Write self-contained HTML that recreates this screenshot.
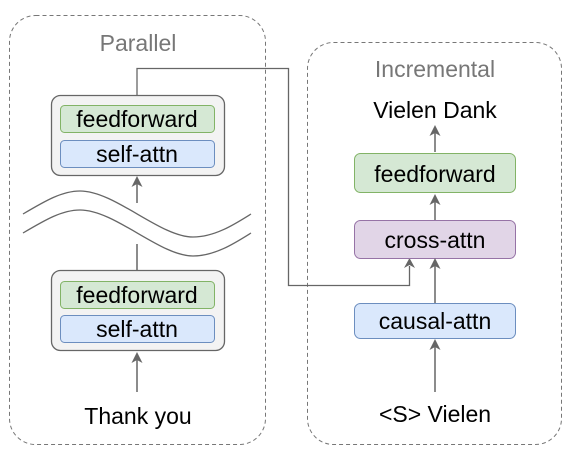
<!DOCTYPE html>
<html><head><meta charset="utf-8"><style>
html,body{margin:0;padding:0;background:#fff;}
svg{display:block;}
text{font-family:"Liberation Sans",sans-serif;text-anchor:middle;}
</style></head><body>
<svg width="575" height="457" viewBox="0 0 575 457" xmlns="http://www.w3.org/2000/svg">
<rect x="9.5" y="15.5" width="256" height="429" rx="26" fill="none" stroke="#777" stroke-dasharray="4,3"/>
<rect x="307.5" y="42.5" width="254" height="402" rx="26" fill="none" stroke="#777" stroke-dasharray="4,3"/>
<text x="138" y="51" font-size="23" fill="#777">Parallel</text>
<text x="435" y="77" font-size="23" fill="#777">Incremental</text>

<polyline points="137,95 137,68.5 288.5,68.5 288.5,285.5 409.5,285.5 409.5,266" fill="none" stroke="#666" stroke-width="1.3"/>
<path d="M409.5,258 L404,268 L409.5,265 L415,268 Z" fill="#666"/>

<rect x="51.5" y="95.5" width="173" height="80" rx="9" fill="#f3f3f3" stroke="#666" stroke-width="1.3"/>
<rect x="60.5" y="105.5" width="154" height="27" rx="4" fill="#d5e8d4" stroke="#82b366"/>
<rect x="60.5" y="140.5" width="154" height="27" rx="4" fill="#dae8fc" stroke="#6c8ebf"/>
<text x="137" y="127" font-size="23">feedforward</text>
<text x="137" y="162" font-size="23">self-attn</text>

<line x1="137" y1="203" x2="137" y2="184" stroke="#666" stroke-width="1.5"/>
<path d="M137,176 L131.5,187 L137,184 L142.5,187 Z" fill="#666"/>

<path d="M23,214 C45,201 62,191 80,191 C115,191 160,237 193,237 C215,237 235,224 251,214" fill="none" stroke="#666" stroke-width="1.3"/>
<path d="M23,233 C45,220 62,210 80,210 C115,210 160,256 193,256 C215,256 235,243 251,233" fill="none" stroke="#666" stroke-width="1.3"/>

<line x1="137" y1="244" x2="137" y2="270" stroke="#666" stroke-width="1.5"/>

<rect x="51.5" y="270.5" width="173" height="80" rx="9" fill="#f3f3f3" stroke="#666" stroke-width="1.3"/>
<rect x="60.5" y="281.5" width="154" height="27" rx="4" fill="#d5e8d4" stroke="#82b366"/>
<rect x="60.5" y="315.5" width="154" height="27" rx="4" fill="#dae8fc" stroke="#6c8ebf"/>
<text x="137" y="303" font-size="23">feedforward</text>
<text x="137" y="337" font-size="23">self-attn</text>

<line x1="137" y1="392" x2="137" y2="360" stroke="#666" stroke-width="1.5"/>
<path d="M137,352 L131.5,363 L137,360 L142.5,363 Z" fill="#666"/>
<text x="138" y="424" font-size="23">Thank you</text>

<text x="435" y="118" font-size="23">Vielen Dank</text>
<line x1="435" y1="152" x2="435" y2="133" stroke="#666" stroke-width="1.5"/>
<path d="M435,125 L429.5,136 L435,133 L440.5,136 Z" fill="#666"/>

<rect x="354.5" y="153.5" width="161" height="39" rx="6" fill="#d5e8d4" stroke="#82b366"/>
<text x="435" y="182" font-size="23">feedforward</text>

<line x1="435" y1="220" x2="435" y2="202" stroke="#666" stroke-width="1.5"/>
<path d="M435,194 L429.5,205 L435,202 L440.5,205 Z" fill="#666"/>

<rect x="354.5" y="220.5" width="161" height="38" rx="6" fill="#e1d5e7" stroke="#9673a6"/>
<text x="435" y="248" font-size="23">cross-attn</text>

<line x1="435" y1="303" x2="435" y2="266" stroke="#666" stroke-width="1.5"/>
<path d="M435,258 L429.5,269 L435,266 L440.5,269 Z" fill="#666"/>

<rect x="354.5" y="303.5" width="161" height="35" rx="6" fill="#dae8fc" stroke="#6c8ebf"/>
<text x="435" y="329" font-size="23">causal-attn</text>

<line x1="435" y1="392" x2="435" y2="347" stroke="#666" stroke-width="1.5"/>
<path d="M435,339 L429.5,350 L435,347 L440.5,350 Z" fill="#666"/>
<text x="435" y="422" font-size="23">&lt;S&gt; Vielen</text>
</svg>
</body></html>
